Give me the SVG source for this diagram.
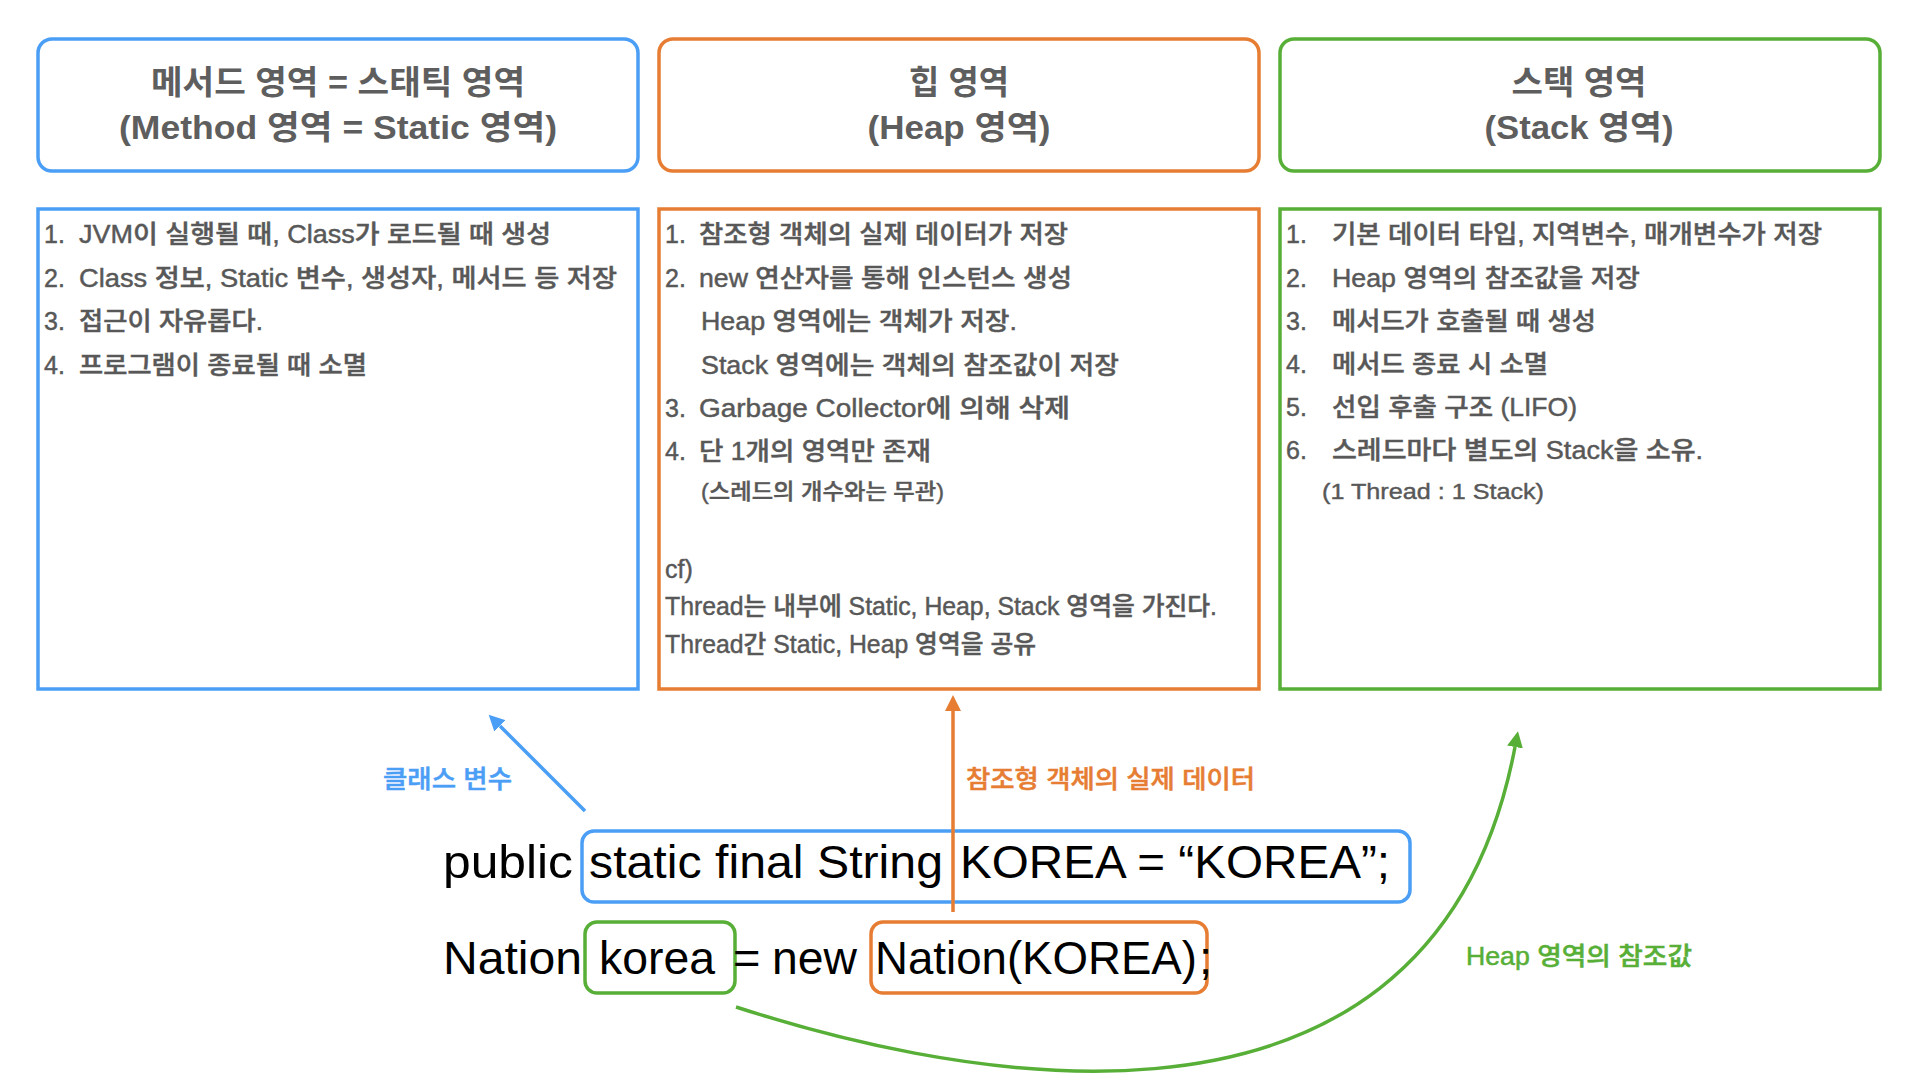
<svg xmlns="http://www.w3.org/2000/svg" width="1920" height="1080" viewBox="0 0 1920 1080">
<defs>
<style>
text{font-family:"Liberation Sans","Noto Sans CJK KR",sans-serif}
.hd{font-size:33px;font-weight:bold;fill:#5e5e5e;text-anchor:middle}
.ct{font-size:25px;font-weight:500;fill:#585858;stroke:#585858;stroke-width:0.45px}
.sm{font-size:22px;font-weight:500;fill:#585858;stroke:#585858;stroke-width:0.4px}
.code{font-size:47px;fill:#000}
.lbl{font-size:25px;font-weight:500;stroke-width:0.5px}
.box{fill:#fff;stroke-width:3.5}
.blue{stroke:#4b9ef5}
.orange{stroke:#e67d33}
.green{stroke:#58af38}
.nofill{fill:none}
.conn{fill:none;stroke-width:3.5}
</style>
<marker id="ab" viewBox="0 0 16 16" refX="0" refY="8" markerWidth="16" markerHeight="16" markerUnits="userSpaceOnUse" orient="auto"><path d="M0,0 L16,8 L0,16 z" fill="#4b9ef5"/></marker>
<marker id="ao" viewBox="0 0 16 16" refX="0" refY="8" markerWidth="16" markerHeight="16" markerUnits="userSpaceOnUse" orient="auto"><path d="M0,0 L16,8 L0,16 z" fill="#e67d33"/></marker>
<marker id="ag" viewBox="0 0 16 16" refX="0" refY="8" markerWidth="16" markerHeight="16" markerUnits="userSpaceOnUse" orient="auto"><path d="M0,0 L16,8 L0,16 z" fill="#58af38"/></marker>
</defs>
<rect width="1920" height="1080" fill="#fff"/>

<g id="method-header">
<rect class="box blue" x="38" y="39" width="600" height="132" rx="14"/>
<text class="hd" x="338" y="94" textLength="374" lengthAdjust="spacingAndGlyphs">메서드 영역 = 스태틱 영역</text>
<text class="hd" x="338" y="139" textLength="438" lengthAdjust="spacingAndGlyphs">(Method 영역 = Static 영역)</text>
</g>
<g id="heap-header">
<rect class="box orange" x="659" y="39" width="600" height="132" rx="14"/>
<text class="hd" x="959" y="94" textLength="100" lengthAdjust="spacingAndGlyphs">힙 영역</text>
<text class="hd" x="959" y="139" textLength="183" lengthAdjust="spacingAndGlyphs">(Heap 영역)</text>
</g>
<g id="stack-header">
<rect class="box green" x="1280" y="39" width="600" height="132" rx="14"/>
<text class="hd" x="1579" y="94" textLength="135" lengthAdjust="spacingAndGlyphs">스택 영역</text>
<text class="hd" x="1579" y="139" textLength="189" lengthAdjust="spacingAndGlyphs">(Stack 영역)</text>
</g>

<g id="method-body">
<rect class="box blue" x="38" y="209" width="600" height="480"/>
<text class="ct" x="44" y="243">1.</text>
<text class="ct" x="79" y="243" textLength="472" lengthAdjust="spacingAndGlyphs">JVM이 실행될 때, Class가 로드될 때 생성</text>
<text class="ct" x="44" y="287">2.</text>
<text class="ct" x="79" y="287" textLength="538" lengthAdjust="spacingAndGlyphs">Class 정보, Static 변수, 생성자, 메서드 등 저장</text>
<text class="ct" x="44" y="330">3.</text>
<text class="ct" x="79" y="330" textLength="184" lengthAdjust="spacingAndGlyphs">접근이 자유롭다.</text>
<text class="ct" x="44" y="374">4.</text>
<text class="ct" x="79" y="374" textLength="288" lengthAdjust="spacingAndGlyphs">프로그램이 종료될 때 소멸</text>
</g>

<g id="heap-body">
<rect class="box orange" x="659" y="209" width="600" height="480"/>
<text class="ct" x="665" y="243">1.</text>
<text class="ct" x="699" y="243" textLength="369" lengthAdjust="spacingAndGlyphs">참조형 객체의 실제 데이터가 저장</text>
<text class="ct" x="665" y="287">2.</text>
<text class="ct" x="699" y="287" textLength="373" lengthAdjust="spacingAndGlyphs">new 연산자를 통해 인스턴스 생성</text>
<text class="ct" x="701" y="330" textLength="316" lengthAdjust="spacingAndGlyphs">Heap 영역에는 객체가 저장.</text>
<text class="ct" x="701" y="374" textLength="418" lengthAdjust="spacingAndGlyphs">Stack 영역에는 객체의 참조값이 저장</text>
<text class="ct" x="665" y="417">3.</text>
<text class="ct" x="699" y="417" textLength="371" lengthAdjust="spacingAndGlyphs">Garbage Collector에 의해 삭제</text>
<text class="ct" x="665" y="460">4.</text>
<text class="ct" x="699" y="460" textLength="232" lengthAdjust="spacingAndGlyphs">단 1개의 영역만 존재</text>
<text class="sm" x="701" y="499" textLength="243" lengthAdjust="spacingAndGlyphs">(스레드의 개수와는 무관)</text>
<text class="ct" x="665" y="578">cf)</text>
<text class="ct" x="665" y="615" textLength="552" lengthAdjust="spacingAndGlyphs">Thread는 내부에 Static, Heap, Stack 영역을 가진다.</text>
<text class="ct" x="665" y="653" textLength="371" lengthAdjust="spacingAndGlyphs">Thread간 Static, Heap 영역을 공유</text>
</g>

<g id="stack-body">
<rect class="box green" x="1280" y="209" width="600" height="480"/>
<text class="ct" x="1286" y="243">1.</text>
<text class="ct" x="1332" y="243" textLength="490" lengthAdjust="spacingAndGlyphs">기본 데이터 타입, 지역변수, 매개변수가 저장</text>
<text class="ct" x="1286" y="287">2.</text>
<text class="ct" x="1332" y="287" textLength="308" lengthAdjust="spacingAndGlyphs">Heap 영역의 참조값을 저장</text>
<text class="ct" x="1286" y="330">3.</text>
<text class="ct" x="1332" y="330" textLength="264" lengthAdjust="spacingAndGlyphs">메서드가 호출될 때 생성</text>
<text class="ct" x="1286" y="373">4.</text>
<text class="ct" x="1332" y="373" textLength="216" lengthAdjust="spacingAndGlyphs">메서드 종료 시 소멸</text>
<text class="ct" x="1286" y="416">5.</text>
<text class="ct" x="1332" y="416" textLength="245" lengthAdjust="spacingAndGlyphs">선입 후출 구조 (LIFO)</text>
<text class="ct" x="1286" y="459">6.</text>
<text class="ct" x="1332" y="459" textLength="371" lengthAdjust="spacingAndGlyphs">스레드마다 별도의 Stack을 소유.</text>
<text class="sm" x="1322" y="499" textLength="222" lengthAdjust="spacingAndGlyphs">(1 Thread : 1 Stack)</text>
</g>

<g id="code-static-box">
<rect class="box blue nofill" x="582" y="831" width="828" height="71" rx="12" style="fill:none"/>
</g>
<g id="code-korea-box">
<rect class="box green nofill" x="585" y="922" width="150" height="71" rx="12" style="fill:none"/>
</g>
<g id="code-new-box">
<rect class="box orange nofill" x="871" y="922" width="336" height="71" rx="12" style="fill:none"/>
</g>

<g id="code">
<text class="code" x="443" y="878" textLength="130" lengthAdjust="spacingAndGlyphs">public</text>
<text class="code" x="589" y="878" textLength="354" lengthAdjust="spacingAndGlyphs">static final String</text>
<text class="code" x="960" y="878" textLength="430" lengthAdjust="spacingAndGlyphs">KOREA = “KOREA”;</text>
<text class="code" x="443" y="974" textLength="139" lengthAdjust="spacingAndGlyphs">Nation</text>
<text class="code" x="599" y="974" textLength="116" lengthAdjust="spacingAndGlyphs">korea</text>
<text class="code" x="733" y="974">=</text>
<text class="code" x="772" y="974" textLength="85" lengthAdjust="spacingAndGlyphs">new</text>
<text class="code" x="875" y="974" textLength="322" lengthAdjust="spacingAndGlyphs">Nation(KOREA)</text>
<text class="code" x="1199" y="974">;</text>
</g>

<g id="connectors">
<line class="conn" x1="585" y1="811" x2="500" y2="726" stroke="#4b9ef5" marker-end="url(#ab)"/>
<line class="conn" x1="953" y1="912" x2="953" y2="711" stroke="#e67d33" marker-end="url(#ao)"/>
<path class="conn" d="M736,1007 C900,1060 1428,1205 1515,747" stroke="#58af38" marker-end="url(#ag)"/>
</g>

<g id="labels">
<text class="lbl" x="383" y="788" fill="#4b9ef5" stroke="#4b9ef5" textLength="129" lengthAdjust="spacingAndGlyphs">클래스 변수</text>
<text class="lbl" x="966" y="788" fill="#e67d33" stroke="#e67d33" textLength="289" lengthAdjust="spacingAndGlyphs">참조형 객체의 실제 데이터</text>
<text class="lbl" x="1466" y="965" fill="#58af38" stroke="#58af38" textLength="226" lengthAdjust="spacingAndGlyphs">Heap 영역의 참조값</text>
</g>
</svg>
